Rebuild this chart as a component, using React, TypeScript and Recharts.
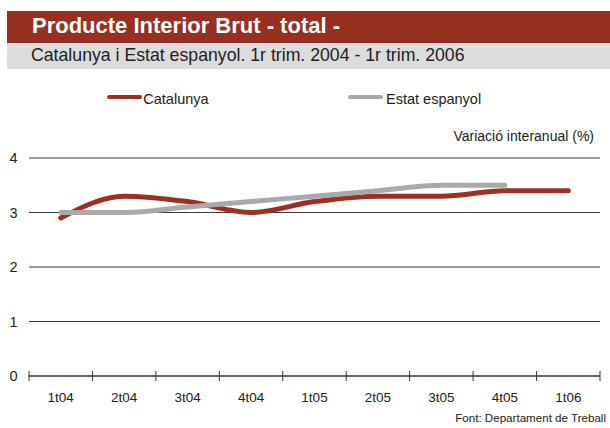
import React from "react";
import { LineChart, Line, XAxis, YAxis, CartesianGrid } from "recharts";

const quarters = ["1t04", "2t04", "3t04", "4t04", "1t05", "2t05", "3t05", "4t05", "1t06"];
const catalunya = [2.9, 3.3, 3.2, 3.0, 3.2, 3.3, 3.3, 3.4, 3.4];
const estat = [3.0, 3.0, 3.1, 3.2, 3.3, 3.4, 3.5, 3.5, null];
const yTicks = [0, 1, 2, 3, 4];
const seriesNames = ["Catalunya", "Estat espanyol"];
const title = "Producte Interior Brut - total -";
const subtitle = "Catalunya i Estat espanyol. 1r trim. 2004 - 1r trim. 2006";
const unitLabel = "Variació interanual (%)";
const source = "Font: Departament de Treball";

const data = quarters.map((q, i) => ({ q, cat: catalunya[i], est: estat[i] }));

const RED = "#9d3024";
const GREY = "#a9a9a9";
const FONT = "'Liberation Sans', Arial, sans-serif";

const XTick = (props: any) => {
  const { x, y, payload, index, visibleTicksCount, width } = props;
  const bw =
    payload && payload.offset ? payload.offset * 2 : (width || 571) / (visibleTicksCount || quarters.length);
  const last = index === (visibleTicksCount || quarters.length) - 1;
  return (
    <g>
      <line x1={x - bw / 2} x2={x - bw / 2} y1={y - 5} y2={y + 5} stroke="#333" strokeWidth={1} />
      {last && <line x1={x + bw / 2} x2={x + bw / 2} y1={y - 5} y2={y + 5} stroke="#333" strokeWidth={1} />}
      <text x={x} y={y + 25.7} textAnchor="middle" fontSize={13.5} fill="#222" fontFamily={FONT}>
        {payload.value}
      </text>
    </g>
  );
};

export default function App() {
  return (
    <div
      style={{
        position: "fixed",
        left: 0,
        top: 0,
        width: 610,
        height: 428,
        overflow: "hidden",
        background: "#fff",
        fontFamily: FONT,
      }}
    >
      <div style={{ position: "absolute", left: 7, top: 11, width: 603, height: 31, background: "#98301f", borderBottom: "1px solid #7c2a34" }} />
      <div style={{ position: "absolute", left: 7, top: 43, width: 603, height: 26, background: "#dcdcdd" }} />
      <div
        style={{
          position: "absolute",
          left: 32,
          top: 15.4,
          fontSize: 22,
          lineHeight: "22px",
          fontWeight: "bold",
          color: "#fff",
          whiteSpace: "nowrap",
        }}
      >
        {title}
      </div>
      <div
        style={{
          position: "absolute",
          left: 31,
          top: 47.3,
          fontSize: 17.7,
          lineHeight: "17.7px",
          color: "#222",
          whiteSpace: "nowrap",
        }}
      >
        {subtitle}
      </div>

      <LineChart
        width={610}
        height={428}
        data={data}
        margin={{ top: 158, right: 10, bottom: 22, left: 0 }}
        style={{ position: "absolute", left: 0, top: 0 }}
      >
        <CartesianGrid horizontal vertical={false} stroke="#3a3a3a" strokeWidth={1} />
        <XAxis
          dataKey="q"
          scale="band"
          height={30}
          tickLine={false}
          axisLine={{ stroke: "#333", strokeWidth: 1 }}
          tickSize={0}
          tickMargin={0}
          interval={0}
          tick={<XTick />}
        />
        <YAxis
          domain={[0, 4]}
          ticks={yTicks}
          width={29}
          tickLine={false}
          axisLine={false}
          tickSize={0}
          tickMargin={11.5}
          tick={{ fontSize: 14.5, fill: "#222", fontFamily: FONT }}
        />
        <Line
          dataKey="cat"
          name={seriesNames[0]}
          type="monotone"
          stroke={RED}
          strokeWidth={5}
          strokeLinecap="round"
          dot={false}
          activeDot={false}
          isAnimationActive={false}
        />
        <Line
          dataKey="est"
          name={seriesNames[1]}
          type="monotone"
          stroke={GREY}
          strokeWidth={5}
          strokeLinecap="round"
          dot={false}
          activeDot={false}
          connectNulls={false}
          isAnimationActive={false}
        />
      </LineChart>

      <div style={{ position: "absolute", left: 107, top: 94.5, width: 35, height: 4.5, borderRadius: 3, background: RED }} />
      <div style={{ position: "absolute", left: 143.3, top: 91.7, fontSize: 14.5, lineHeight: "14.5px", color: "#222", whiteSpace: "nowrap" }}>
        {seriesNames[0]}
      </div>
      <div style={{ position: "absolute", left: 348.3, top: 94.5, width: 35, height: 4.5, borderRadius: 3, background: GREY }} />
      <div style={{ position: "absolute", left: 386, top: 91.7, fontSize: 14.5, lineHeight: "14.5px", color: "#222", whiteSpace: "nowrap" }}>
        {seriesNames[1]}
      </div>

      <div
        style={{
          position: "absolute",
          right: 610 - 594,
          top: 140.7 - 0.8465 * 14,
          fontSize: 14,
          lineHeight: "14px",
          color: "#222",
          whiteSpace: "nowrap",
        }}
      >
        {unitLabel}
      </div>
      <div
        style={{
          position: "absolute",
          right: 610 - 606,
          top: 421.5 - 0.8465 * 11.6,
          fontSize: 11.6,
          lineHeight: "11.6px",
          color: "#222",
          whiteSpace: "nowrap",
        }}
      >
        {source}
      </div>
    </div>
  );
}
